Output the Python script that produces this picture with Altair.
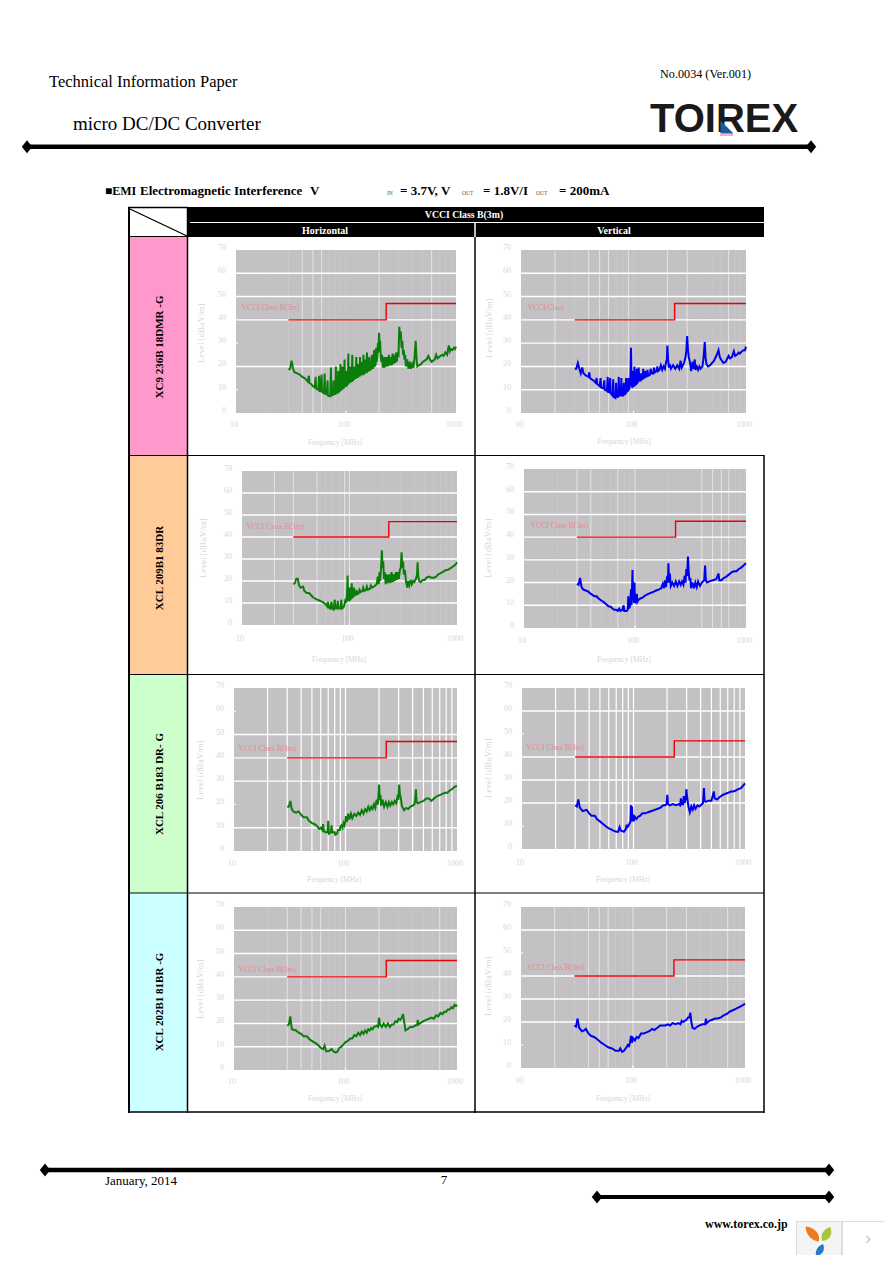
import altair as alt
import pandas as pd

OFF = 8
SERIF = "Liberation Serif"
SANS = "Liberation Sans"

LIMIT = [(30, 40), (232, 40), (232, 47), (1000, 47)]
Y_TICKS = [0, 10, 20, 30, 40, 50, 60, 70]
X_TICKS = [10, 100, 1000]
ALL_V = [20, 30, 40, 50, 60, 70, 80, 90, 100, 200, 300, 400, 500, 600, 700, 800, 900]

H1 = [(30,18.5),(31,19),(32,22.5),(33,19),(34,17.5),(36,17),(38,16.5),(40,15.5),(42,15),(44,14),(45,13.5),(46,16),(46.5,13),(48,12.5),(50,11.5),(52,11),(53,15.5),(53.5,10.5),(56,10),(57,16),(57.5,9.5),(59,9.5),(60,16.5),(60.5,9),(63,8.5),(64,17),(64.5,8.5),(67,8),(68,14),(68.5,7.5),(71,7.2),(72,8),(73,19.5),(73.5,7.5),(76,8),(77,14),(77.5,8),(80,8.5),(81,20),(81.5,8.5),(84,9),(85,18),(85.5,9),(88,9.5),(89,21),(89.5,10),(92,10.5),(93,20),(93.5,10.5),(96,11),(97,23),(97.5,11.5),(100,12),(101,18),(102,12),(104,12.5),(105,25.5),(105.5,13),(108,13.5),(109,20),(110,13.5),(113,14),(114,25),(115,14),(118,14.5),(119,20),(120,15),(123,15),(124,24),(125,15.5),(128,15.5),(129,21),(130,16),(133,16),(134,24),(135,16.5),(138,16.5),(139,22),(140,17),(143,17),(144,25),(145,17),(148,17.5),(149,23),(150,17.5),(153,18),(155,26),(157,18),(160,18.5),(163,24),(165,18.5),(170,19),(172,25),(175,19),(178,20),(180,27),(183,20),(186,21),(188,28),(190,22),(193,25),(195,30),(197,26),(200,34.5),(202,28),(204,31),(207,24),(210,22),(213,25),(216,19.5),(220,24),(224,19.5),(228,24),(232,20),(236,24),(240,20),(245,25),(250,20.5),(255,24),(260,20.5),(265,25.5),(270,21),(275,25),(280,21.5),(285,26),(290,22),(295,26),(300,24),(305,37),(310,32),(315,35),(320,28),(325,31),(330,25),(335,27),(340,23),(345,25),(350,20),(360,23),(370,19),(380,22),(390,19),(400,21),(410,19.5),(420,24),(430,31),(436,25),(440,22),(445,20),(460,20.5),(480,21),(500,22),(520,22.5),(540,23),(560,24.5),(580,23),(600,22),(620,22.5),(640,23),(660,25),(680,23.5),(700,24),(720,24.5),(750,25),(770,24.5),(800,26),(830,25),(860,29),(880,26.5),(900,27.5),(930,27),(960,28),(980,27.5),(1000,28.5)]
V1 = [(30,19),(31,19),(32,21.5),(33,19),(34,17),(35,19.5),(36,17),(38,16),(40,15.5),(40.5,17.5),(41,15),(44,14),(46,13),(47,15),(47.5,12.5),(50,11.5),(51,15),(51.5,11),(54,10.5),(55,14),(55.5,10),(58,9.5),(59,15.5),(59.5,9),(61,9),(62,15),(62.5,8.5),(65,7.5),(66,14.5),(66.5,7),(69,6.5),(70,13),(70.5,7),(73,7),(74,15.5),(74.5,7.5),(77,7.5),(78,15),(78.5,7.5),(81,7.5),(82,13),(82.5,8),(85,8.5),(86,15),(86.5,9),(89,10),(90,15),(90.5,10),(92,10.5),(94,16),(95,28),(96,13),(97,11),(98,18),(99,11.5),(101,12),(102,20),(103,12),(106,12.5),(107,19),(108,13),(110,13.5),(111,19.5),(113,14),(116,14),(117,17),(118,14.5),(121,15),(122,19),(123,15),(126,15.5),(127,18),(128,15.5),(132,16),(133,18.5),(135,16),(140,16.5),(142,19),(145,17),(150,17),(152,19.5),(155,17.5),(160,18),(163,20),(165,18),(170,18.5),(175,20.5),(180,18.5),(185,20),(190,19),(195,22),(198,23),(200,29),(203,23),(206,19.5),(210,21),(215,19),(225,20.5),(235,19),(245,20.5),(255,19),(262,22.5),(268,19.5),(275,20.5),(283,22),(290,24),(295,27),(300,33),(305,27),(310,24),(320,21),(325,18),(335,22),(342,19),(350,23),(355,18.5),(365,20),(375,18.5),(385,20),(395,19),(410,20),(420,24),(430,30.5),(437,24),(445,21),(460,20),(480,20.5),(500,21.5),(520,22.5),(550,25),(570,27),(585,24),(600,23),(630,21.5),(660,22),(700,24.5),(720,23.5),(750,24),(780,26.5),(800,24.5),(830,25),(860,26),(880,25.5),(920,26.5),(950,27),(980,27),(1000,28.5)]
H2 = [(30,18.5),(31,19),(32,21),(33,21),(34,18),(35,17),(37,17.5),(38,15.5),(40,14.5),(42,14.5),(44,13.5),(46,12.5),(50,11.5),(53,11),(56,10.5),(60,9.5),(62,8.5),(63,10.5),(64,8),(66,7.5),(68,10.5),(69,7.5),(71,7),(73,11.5),(73.5,7.5),(76,7.5),(78,11),(78.5,7.5),(82,7.5),(84,11.5),(85,7.5),(88,8),(90,9.5),(92,12),(93,10),(95,14),(96,22.5),(97,11),(99,13),(100,17),(101,11.5),(103,12),(105,19),(106,12.5),(109,13),(110,17),(111,13.5),(115,14),(116,16),(118,14),(122,14.5),(124,16),(127,15),(132,15.5),(134,17),(137,15.5),(142,16),(145,17.5),(148,16),(155,16.5),(158,18),(162,17),(170,17.5),(175,18),(180,19),(183,22),(187,18.5),(190,24),(193,20),(197,27),(200,34),(203,26),(206,29),(209,21),(213,24),(217,18.5),(222,23),(228,19),(234,23),(240,19),(246,24),(252,19.5),(258,23),(264,20),(270,24),(276,20.5),(282,24),(288,21),(294,25),(300,26),(305,33),(310,26),(315,29),(320,23),(328,25),(335,20),(345,17),(350,20),(360,18),(370,20.5),(380,18.5),(390,20),(400,19.5),(415,21),(425,23),(430,28.5),(436,22),(445,20),(460,19.5),(480,20.5),(500,20.5),(520,21.5),(550,22),(580,21.5),(610,21.5),(640,22),(670,23),(700,23.5),(730,24),(760,24.5),(790,25),(820,25),(850,25.5),(880,26),(910,26.5),(940,27),(970,27.5),(1000,28.5)]
V2 = [(30,19.5),(31,19),(32,22),(33,18),(34,17),(36,16.5),(38,16),(40,15),(43,14),(45,14),(47,13),(50,12),(52,11.5),(55,10.5),(58,9.5),(60,9.5),(63,8.5),(65,8),(68,8),(70,7.5),(72,8.5),(74,7.5),(77,8),(79,10),(80,7.5),(84,7.5),(86,8),(87,14),(88,8.5),(90,9.5),(92,17),(93,10),(95,25.5),(96,12),(97,19),(98,11),(99,20),(100,11),(102,12),(104,15),(105,11.5),(108,12.5),(112,13),(118,13.5),(125,14.5),(132,15),(140,15.5),(148,16),(155,16.5),(165,17),(172,17.5),(178,19.5),(182,17.5),(187,21),(190,18),(195,23),(198,20),(200,28.5),(203,20),(206,24),(210,18.5),(217,20),(225,18.5),(233,20.5),(241,18.5),(250,20.5),(258,19),(265,20.5),(273,19),(280,23),(285,20),(290,26),(295,23),(300,31.5),(305,24),(310,21),(315,22),(320,17.5),(330,20),(340,17.5),(350,20),(360,18),(370,20.5),(385,18.5),(400,20),(420,21),(428,27.5),(435,21),(445,20),(470,20.5),(500,21),(540,21.5),(565,24),(575,21),(600,21),(630,22),(660,22.5),(700,23.5),(740,24.5),(780,25),(820,25),(860,26),(900,26.5),(950,27.5),(1000,28.5)]
H3 = [(30,19),(31,19),(32,21.5),(33,18),(34,17),(36,16.5),(38,17),(40,15.5),(42,14.5),(45,14.5),(47,13),(50,12),(53,11.5),(56,10.5),(58,9.5),(60,10),(62,9),(63,11.5),(64,8.5),(66,8),(69,8),(70,13),(71,7.5),(74,8),(75,11),(76,8),(80,8),(81,7),(84,7.5),(86,9),(89,9),(90,10.5),(92,11),(94,10),(96,12),(98,11),(100,13),(101,15),(103,12.5),(106,16),(108,13.5),(112,16),(115,14),(120,16),(125,15),(130,16.5),(135,15.5),(140,17.5),(145,16),(150,18),(155,17),(160,19),(165,17.5),(170,19),(175,18),(180,20),(185,18.5),(190,22),(195,20),(198,24),(200,28.5),(203,22),(206,24),(209,19.5),(215,22),(222,19),(230,21),(238,19),(245,21),(252,19.5),(260,21),(268,20),(276,21.5),(285,20.5),(292,23),(298,22),(303,28.5),(308,24),(313,23),(320,19.5),(335,17.5),(350,18.5),(365,18),(380,19),(400,19.5),(415,20),(422,22),(428,26.5),(434,21),(445,20.5),(470,21),(500,21.5),(530,22.5),(560,22.5),(590,21.5),(620,22.5),(660,23.5),(700,24),(740,24.5),(780,25),(820,25),(860,26),(900,26.5),(950,27.5),(1000,28)]
V3 = [(30,19),(31,18.5),(32,21.5),(33,18),(35,16.5),(38,17),(40,15.5),(42,14.5),(45,14.5),(47,13),(50,12),(53,11),(56,10),(60,9),(63,8.5),(66,8),(70,7.5),(73,7.5),(75,9.5),(77,8),(82,7.5),(85,8.5),(87,10.5),(88,9.5),(90,10),(92,11),(94,12),(95,19),(96,12),(97,18.5),(98,12),(99,15),(100,12),(103,14),(106,13),(110,14),(115,14.5),(120,15.5),(128,15.5),(135,16),(145,16.5),(155,17),(165,17.5),(175,18),(185,19),(192,19),(198,19.5),(201,23.5),(204,19.5),(212,19),(225,19.5),(240,19),(255,19.5),(262,19),(266,22),(270,19.5),(278,19.5),(282,23),(288,20),(294,22),(298,26),(302,23),(306,21),(312,18),(320,16),(330,18.5),(340,17),(350,19),(360,17.5),(375,19),(390,18.5),(410,19.5),(420,20),(428,26.5),(434,21),(445,20.5),(470,21),(500,21),(525,25),(535,22),(560,21.5),(590,22.5),(630,23.5),(670,24),(710,24.5),(750,25),(790,25),(830,25.5),(870,26),(920,26.5),(960,27.5),(1000,28.5)]
H4 = [(30,19),(31,19.5),(32,23),(33,17.5),(36,17),(38,16),(40,15.5),(42,14.5),(45,14.5),(48,13),(52,12),(56,11),(60,9.5),(63,9),(65,10.5),(67,8),(70,8),(73,8.5),(75,9),(78,8),(82,7.5),(85,8),(88,9.5),(92,10),(96,11),(100,12),(105,12.5),(110,13.5),(115,13.5),(120,15),(125,14.5),(130,16),(135,15),(140,16.5),(145,15.5),(150,17),(155,16),(160,17.5),(165,17),(170,18),(175,17.5),(180,18.5),(190,19),(196,18.5),(200,22.5),(204,19.5),(212,18.5),(220,20),(230,18.5),(240,20),(250,18.5),(260,19.5),(270,19.5),(280,21),(290,20.5),(300,22),(310,21.5),(320,22.5),(328,24),(335,21),(345,17),(360,17.5),(380,18.5),(400,18.5),(420,19),(440,19.5),(445,21.5),(450,19.5),(480,20.5),(500,21),(530,21.5),(560,22),(590,22.5),(620,22),(650,23.5),(680,23),(710,24.5),(740,24),(770,25),(800,25),(830,26),(860,26),(890,27),(920,26.5),(950,28),(980,27.5),(1000,28)]
V4 = [(30,18.5),(31,18),(32,21.5),(33,17.5),(35,16),(37,16.5),(38,17),(40,15),(42,14),(45,13.5),(48,12.5),(52,11),(56,10),(60,9),(65,8.5),(70,7.5),(75,7.5),(77,8.5),(80,7),(83,7.5),(86,8.5),(90,10),(92,9.5),(94,11),(96,14),(98,11),(100,13),(104,12),(108,13.5),(112,13),(118,15),(125,15),(132,15.5),(140,16),(148,17),(155,16.5),(165,17.5),(175,18.5),(185,18.5),(195,18.5),(205,19),(215,18.5),(225,19.5),(240,19),(255,19.5),(265,19),(272,20.5),(280,20),(290,20.5),(300,21),(310,22),(318,22),(325,24),(332,20),(340,17.5),(355,17),(375,18),(395,18.5),(415,19),(440,19),(448,21.5),(455,19.5),(480,20.5),(510,21),(540,21.5),(570,21.5),(610,22),(650,23),(690,23.5),(730,24.5),(770,25),(810,25.5),(850,26),(890,26.5),(930,27),(970,27.5),(1000,28)]

ONE = pd.DataFrame({"a": [1]})


def box(x0, y0, x1, y1, color):
    return alt.Chart(ONE).mark_rect(color=color).encode(
        x=alt.value(x0 - OFF), x2=alt.value(x1 - OFF),
        y=alt.value(y0 - OFF), y2=alt.value(y1 - OFF))


def seg(x0, y0, x1, y1, color="#000000", w=1.0):
    return alt.Chart(ONE).mark_rule(color=color, strokeWidth=w).encode(
        x=alt.value(x0 - OFF), x2=alt.value(x1 - OFF),
        y=alt.value(y0 - OFF), y2=alt.value(y1 - OFF))


def label(s, x, y, size=11, color="#000000", bold=False, align="left", angle=0, font=SERIF):
    return alt.Chart(pd.DataFrame({"s": [s]})).mark_text(
        font=font, fontSize=size, color=color, align=align, baseline="middle",
        angle=angle, fontWeight="bold" if bold else "normal"
    ).encode(x=alt.value(x - OFF), y=alt.value(y - OFF), text="s:N")


def symbol(x, y, path, size, color):
    return alt.Chart(ONE).mark_point(shape=path, size=size, filled=True, color=color, opacity=1,
                                     strokeWidth=0).encode(
        x=alt.value(x - OFF), y=alt.value(y - OFF))


DIAMOND = "M0,-1L0.8,0L0,1L-0.8,0Z"


def panel(xr, yr, series, color, hgrid, strong, full, limit_x, limit_y, xlab_y, ftitle, ytitle, ltitle="VCCI Class B(3m)"):
    xs = alt.Scale(type="log", domain=[10, 1000], range=[xr[0] - OFF, xr[1] - OFF], nice=False)
    ys = alt.Scale(type="linear", domain=[0, 70], range=[yr[0] - OFF, yr[1] - OFF], nice=False, zero=False)
    X = lambda f: alt.X(f, scale=xs, axis=None)
    Y = lambda f: alt.Y(f, scale=ys, axis=None)
    layers = []
    bg = pd.DataFrame({"a": [10], "b": [1000], "c": [0], "d": [70]})
    layers.append(alt.Chart(bg).mark_rect(color="#c3c1c4").encode(x=X("a:Q"), x2="b:Q", y=Y("c:Q"), y2="d:Q"))
    weak = [v for v in ALL_V if v not in strong]
    if weak:
        d = pd.DataFrame({"v": weak, "lo": 0, "hi": 70})
        layers.append(alt.Chart(d).mark_rule(color="#ffffff", opacity=0.12, strokeWidth=1).encode(x=X("v:Q"), y=Y("lo:Q"), y2="hi:Q"))
    d = pd.DataFrame({"v": strong, "lo": 0, "hi": 70})
    layers.append(alt.Chart(d).mark_rule(color="#ffffff", opacity=1 if full else 0.55, strokeWidth=1.2 if full else 1).encode(x=X("v:Q"), y=Y("lo:Q"), y2="hi:Q"))
    d = pd.DataFrame({"v": hgrid, "a": 10, "b": 1000})
    layers.append(alt.Chart(d).mark_rule(color="#ffffff", strokeWidth=1.4).encode(x=X("a:Q"), x2="b:Q", y=Y("v:Q")))
    # short white stubs where a level has a tick but no grid line
    stubs = [v for v in [10, 20, 30, 40, 50, 60] if v not in hgrid]
    if stubs:
        d = pd.DataFrame({"v": stubs, "a": 9.6, "b": 10.4})
        layers.append(alt.Chart(d).mark_rule(color="#ffffff", strokeWidth=1.2).encode(x=X("a:Q"), x2="b:Q", y=Y("v:Q")))
    d = pd.DataFrame({"v": [100], "lo": -0.5, "hi": 1})
    layers.append(alt.Chart(d).mark_rule(color="#ffffff", strokeWidth=1.2).encode(x=X("v:Q"), y=Y("lo:Q"), y2="hi:Q"))
    # limit label, limit line, measured trace
    d = pd.DataFrame({"f": [limit_x], "l": [limit_y], "s": [ltitle]})
    layers.append(alt.Chart(d).mark_text(font=SERIF, fontSize=7.5, color="#e58a8f", align="left", baseline="middle").encode(x=X("f:Q"), y=Y("l:Q"), text="s:N"))
    d = pd.DataFrame({"i": range(len(LIMIT)), "f": [p[0] for p in LIMIT], "l": [p[1] for p in LIMIT]})
    layers.append(alt.Chart(d).mark_line(color="#ee0000", strokeWidth=1.4, clip=False).encode(x=X("f:Q"), y=Y("l:Q"), order="i:Q"))
    d = pd.DataFrame({"i": range(len(series)), "f": [p[0] for p in series], "l": [p[1] for p in series]})
    layers.append(alt.Chart(d).mark_line(color=color, strokeWidth=2, clip=False).encode(x=X("f:Q"), y=Y("l:Q"), order="i:Q"))
    # tick labels through the scales
    d = pd.DataFrame({"v": X_TICKS, "s": [str(v) for v in X_TICKS]})
    layers.append(alt.Chart(d).mark_text(font=SERIF, fontSize=8, color="#d6d6d6", align="center", baseline="middle", dx=-2).encode(x=X("v:Q"), y=alt.value(xlab_y - OFF), text="s:N"))
    d = pd.DataFrame({"v": Y_TICKS, "s": [str(v) for v in Y_TICKS]})
    layers.append(alt.Chart(d).mark_text(font=SERIF, fontSize=8, color="#d6d6d6", align="right", baseline="middle", dy=-2).encode(x=alt.value(xr[0] - 10 - OFF), y=Y("v:Q"), text="s:N"))
    layers.append(label("Frequency [MHz]", ftitle[0], ftitle[1], size=7.5, color="#d6d6d6", align="center"))
    layers.append(label("Level [dBuV/m]", ytitle[0], ytitle[1], size=9, color="#d6d6d6", align="center", angle=270))
    return alt.layer(*layers)


panels = [
    panel((236, 456), (413, 250), H1, "#0a7d0a", [20, 40, 50, 60], [40, 50, 60, 200, 600], False, 11.3, 45, 425, (335, 443), (201, 333)),
    panel((521, 746), (413, 250), V1, "#0000f0", [10, 20, 30, 40, 50, 60], [20, 40, 50, 60, 90, 200, 300, 700], False, 11.5, 45, 425, (624, 442), (489, 328), "VCCI Class"),
    panel((242, 457), (625, 471), H2, "#0a7d0a", [10, 20, 30, 40, 50, 60], [20, 30, 50, 90, 100], False, 11, 44.5, 639, (339, 660), (203, 548)),
    panel((524, 746), (628, 469), V2, "#0000f0", [10, 20, 30, 40, 50, 60], [30, 40, 70, 100, 400, 500, 600, 700], False, 11.5, 45, 641, (624, 660), (488, 548)),
    panel((234, 457), (851, 688), H3, "#0a7d0a", [10, 30, 40, 50], ALL_V, True, 11, 44, 864, (334, 880), (200, 770)),
    panel((522, 745), (849, 688), V3, "#0000f0", [20, 30, 40, 60], ALL_V, True, 11, 44, 863, (623, 880), (488, 768)),
    panel((234, 457), (1070, 907), H4, "#0a7d0a", [10, 20, 30, 40, 50, 60], [30, 40, 50, 60, 100, 200, 700], False, 11, 43, 1082, (335, 1099), (200, 989)),
    panel((521, 745), (1068, 907), V4, "#0000f0", [20, 30, 40, 60], [20, 40, 50, 60, 100, 200, 300, 700], False, 11.3, 43.5, 1081, (623, 1099), (488, 986)),
]

page = [
    # header
    label("Technical Information Paper", 49, 82, size=16.5),
    label("No.0034 (Ver.001)", 660, 74, size=12.2),
    label("micro DC/DC Converter", 73, 124, size=19),
    seg(27, 146.7, 811, 146.7, w=4.5),
    symbol(27, 146.7, DIAMOND, 170, "#000000"),
    symbol(811, 146.7, DIAMOND, 170, "#000000"),
    # logo
    label("TOIREX", 650, 120, size=40, font=SANS, bold=True, color="#1a1a1a"),
    symbol(727, 127, "M-1,1L1,1L-1,-1Z", 170, "#1f5aa0"),
    box(720, 134, 733, 136, "#f0b0d0"),
    # heading
    label("■EMI", 105, 191, size=12, bold=True),
    label("Electromagnetic Interference", 140, 191, size=13, bold=True),
    label("V", 310, 191, size=13, bold=True),
    label("IN", 387, 193, size=5.5, color="#555555"),
    label("= 3.7V, V", 400, 191, size=13, bold=True),
    label("OUT", 462, 193, size=5.5, color="#555555"),
    label("= 1.8V/I", 483, 191, size=13, bold=True),
    label("OUT", 536, 193, size=5.5, color="#555555"),
    label("= 200mA", 559, 191, size=13, bold=True),
    # table
    box(130, 237, 187, 455, "#ff99cc"),
    box(130, 456, 187, 674, "#ffcc99"),
    box(130, 675, 187, 893, "#ccffcc"),
    box(130, 894, 187, 1112, "#ccffff"),
    box(188, 207, 764, 237, "#000000"),
    seg(190, 222.5, 764, 222.5, "#ffffff", 1),
    seg(475, 223, 475, 237, "#ffffff", 1.5),
    seg(128, 207.5, 188, 207.5, "#000000", 1.5),
    seg(129, 207, 129, 1113, "#000000", 2),
    seg(187.5, 207, 187.5, 1113, "#000000", 1.5),
    seg(475, 237, 475, 1113, "#000000", 1.5),
    seg(764, 455, 764, 1113, "#000000", 1.5),
    seg(128, 236.5, 188, 236.5, "#000000", 1.2),
    seg(128, 455.5, 764, 455.5, "#000000", 1.2),
    seg(128, 674.5, 764, 674.5, "#000000", 1.2),
    seg(128, 893, 764, 893, "#000000", 1.2),
    seg(128, 1112, 764, 1112, "#000000", 1.5),
    seg(130, 209, 187, 236, "#000000", 1.3),
    label("VCCI Class B(3m)", 464, 215, size=9.8, color="#ffffff", bold=True, align="center"),
    label("Horizontal", 325, 230.5, size=10, color="#ffffff", bold=True, align="center"),
    label("Vertical", 614, 230.5, size=10, color="#ffffff", bold=True, align="center"),
    label("XC9 236B  18DMR  -G", 160, 347, size=11, bold=True, align="center", angle=270),
    label("XCL 209B1  83DR", 160, 568, size=11, bold=True, align="center", angle=270),
    label("XCL 206 B183 DR- G", 160, 784, size=11, bold=True, align="center", angle=270),
    label("XCL 202B1  81BR -G", 160, 1002, size=11, bold=True, align="center", angle=270),
    # footer
    seg(45, 1170, 829, 1170, w=4.5),
    symbol(45, 1170, DIAMOND, 170, "#000000"),
    symbol(829, 1170, DIAMOND, 170, "#000000"),
    seg(597, 1197, 829, 1197, w=4),
    symbol(597, 1197, DIAMOND, 170, "#000000"),
    symbol(829, 1197, DIAMOND, 170, "#000000"),
    label("January, 2014", 105, 1181, size=13),
    label("7", 444, 1180, size=13, align="center"),
    label("www.torex.co.jp", 705, 1224, size=12, bold=True),
    # viewer badge
    box(796, 1221, 884, 1255, "#dddddd"),
    box(797, 1222, 841, 1255, "#f4f4f4"),
    box(843, 1222, 884, 1255, "#ffffff"),
    symbol(813, 1234, "M-1,-1C0.2,-0.9 1,0 0.8,1C-0.2,1 -1,0 -1,-1Z", 220, "#ee7a20"),
    symbol(826, 1234, "M0.6,-1C1,0 0.6,0.8 -0.5,1C-0.9,0.2 -0.4,-0.7 0.6,-1Z", 200, "#a5c63b"),
    symbol(820, 1250, "M0.5,-1C0.9,0 0.4,0.8 -0.6,1C-0.9,0.2 -0.4,-0.7 0.5,-1Z", 150, "#2a79c4"),
    label("›", 868, 1239, size=18, color="#c8c8c8", align="center", font=SANS),
]

chart = (
    alt.layer(*panels, *page)
    .resolve_scale(x="independent", y="independent")
    .properties(width=876, height=1247, padding=0, autosize=alt.AutoSizeParams(type="none"), background="#ffffff")
    .configure_view(strokeWidth=0)
)
chart.save("out.html", embed_options={"renderer": "svg", "actions": False})
